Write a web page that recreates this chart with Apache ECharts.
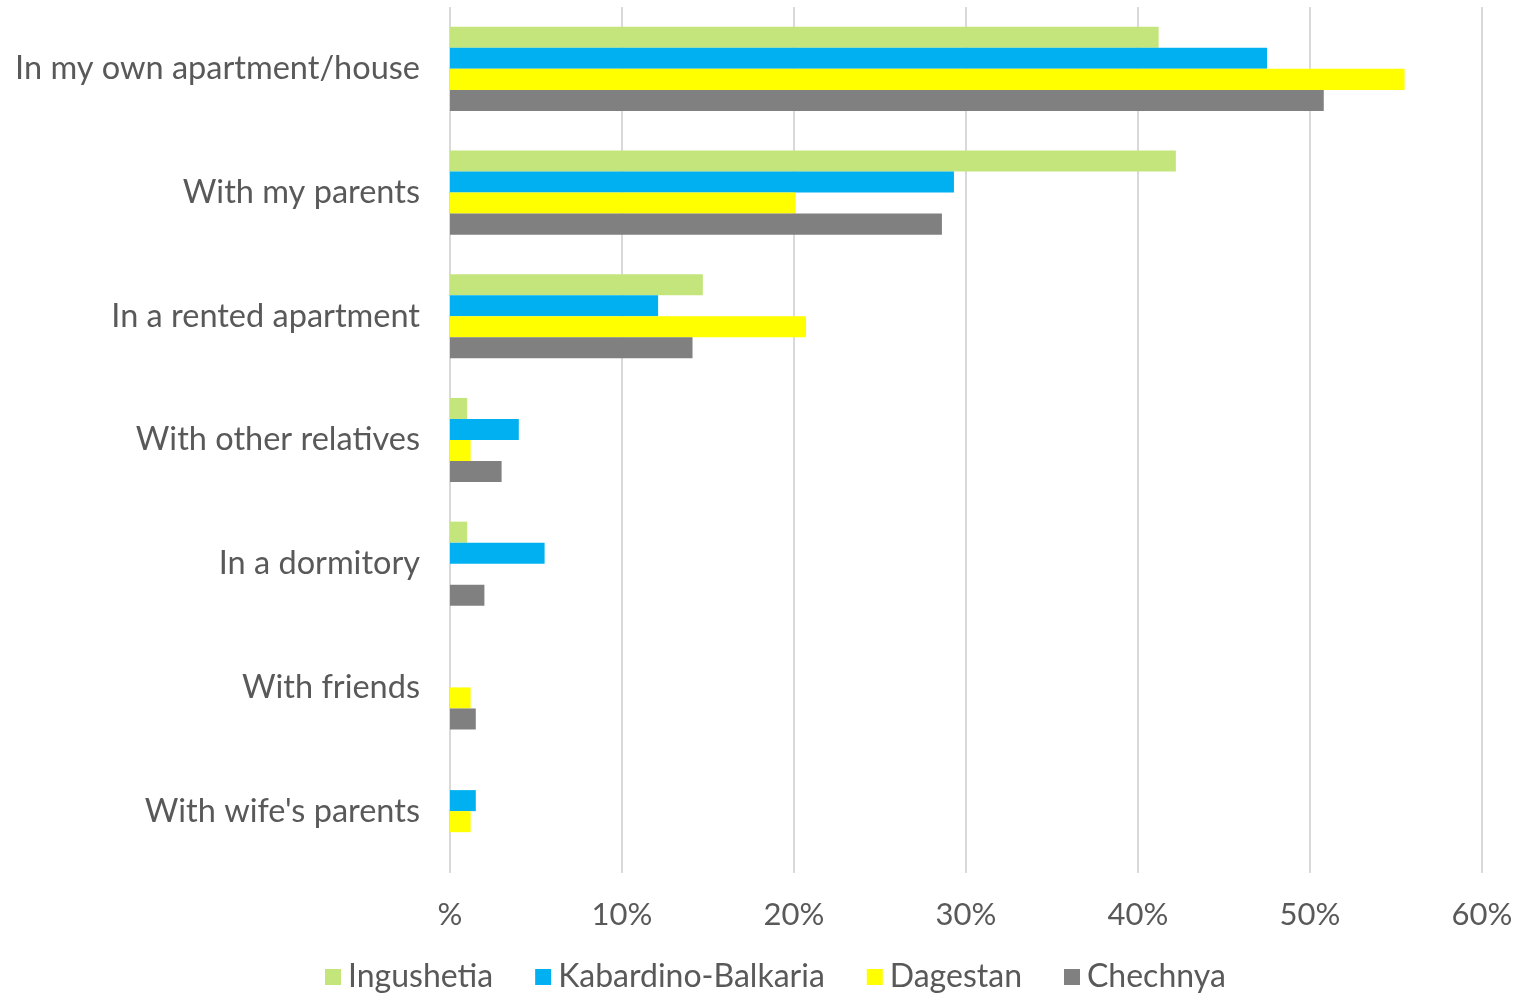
<!DOCTYPE html>
<html>
<head>
<meta charset="utf-8">
<script src="https://cdn.jsdelivr.net/npm/echarts@6/dist/echarts.min.js"></script>
<style>
  html, body { margin: 0; padding: 0; background: #fff; }
  #chart { width: 1516px; height: 995px; }
</style>
</head>
<body>
<div id="chart"></div>
<script>
// categories (top to bottom)
var categories = ['In my own apartment/house', 'With my parents', 'In a rented apartment',
    'With other relatives', 'In a dormitory', 'With friends', "With wife's parents"];
var seriesNames = ['Ingushetia', 'Kabardino-Balkaria', 'Dagestan', 'Chechnya'];
var colors = ['#C3E57B', '#00B0F0', '#FFFF00', '#808080'];

// values in %
var ingushetia = [41.2, 42.2, 14.7, 1.0, 1.0, 0, 0];
var kabardino  = [47.5, 29.3, 12.1, 4.0, 5.5, 0, 1.5];
var dagestan   = [55.5, 20.1, 20.7, 1.2, 0, 1.2, 1.2];
var chechnya   = [50.8, 28.6, 14.1, 3.0, 2.0, 1.5, 0];
var allValues = [ingushetia, kabardino, dagestan, chechnya];

var font = 'Lato';
var chart = echarts.init(document.getElementById('chart'));

var series = seriesNames.map(function (name, i) {
    return {
        name: name,
        type: 'bar',
        data: allValues[i],
        barGap: '0%',
        barCategoryGap: '32%',
        itemStyle: { color: colors[i] },
        silent: true
    };
});

chart.setOption({
    animation: false,
    grid: { left: 450, right: 34, top: 7, bottom: 122, containLabel: false },
    legend: {
        bottom: -3,
        left: 320,
        itemWidth: 16,
        itemHeight: 16,
        itemGap: 42,
        icon: 'rect',
        textStyle: { fontFamily: font, fontSize: 32, color: '#595959', padding: [0, 0, 0, 2] },
        data: seriesNames
    },
    xAxis: {
        type: 'value',
        min: 0,
        max: 60,
        interval: 10,
        axisLine: { show: false },
        axisTick: { show: false },
        splitLine: { lineStyle: { color: '#D9D9D9', width: 2 } },
        axisLabel: {
            margin: 26,
            fontFamily: font,
            fontSize: 31,
            color: '#595959',
            formatter: function (v) { return v === 0 ? '%' : v + '%'; }
        }
    },
    yAxis: {
        type: 'category',
        inverse: true,
        data: categories,
        axisLine: { show: false },
        axisTick: { show: false },
        axisLabel: {
            margin: 30,
            fontFamily: font,
            fontSize: 32.5,
            color: '#595959'
        }
    },
    series: series
});
</script>
</body>
</html>
